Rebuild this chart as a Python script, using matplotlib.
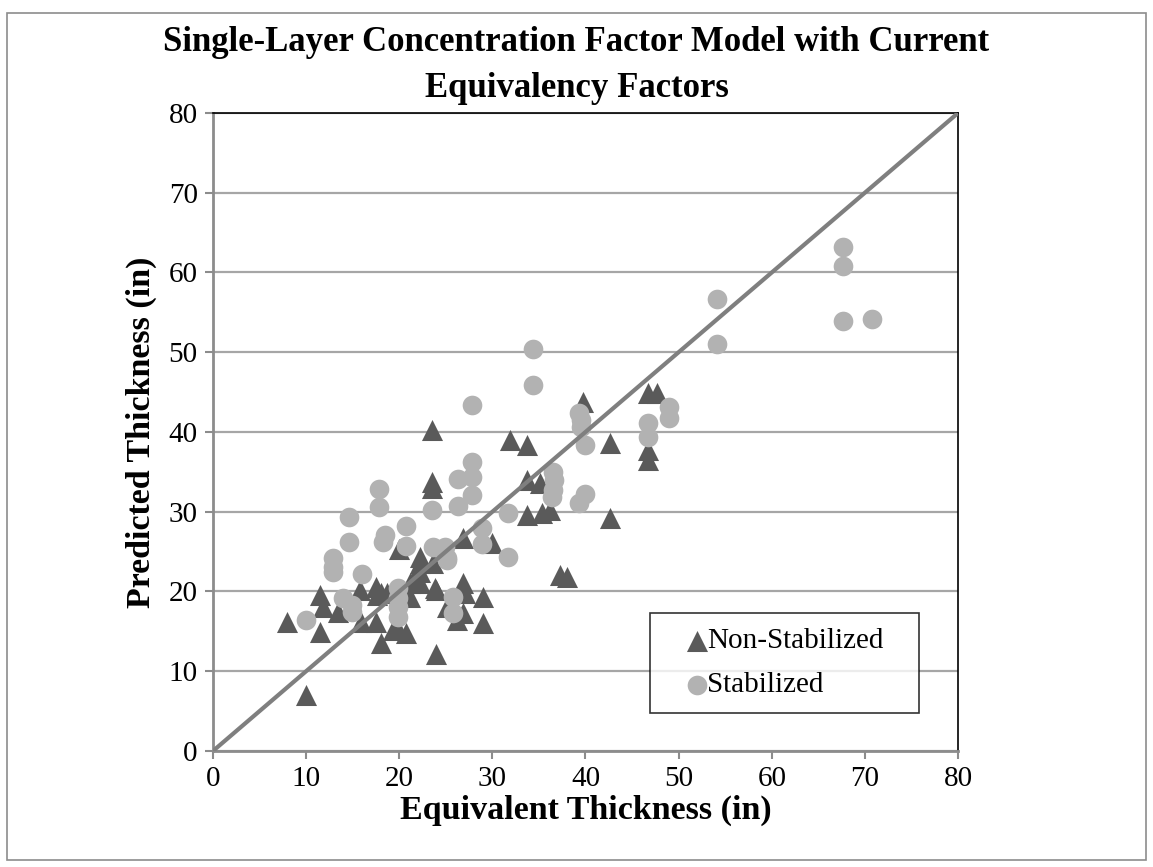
import matplotlib
matplotlib.use("Agg")
import matplotlib.pyplot as plt
from matplotlib.patches import Rectangle

# Non-Stabilized: equivalent thickness (x), predicted thickness (y)
ns_x = [7.9, 10, 11.5, 11.5, 11.8, 13.4, 15.8, 15.9, 17.5, 17.6, 18, 17.5, 18, 18.7,
        19.3, 19.8, 20.7, 21.2, 21.2, 21.5, 22.2, 22.2, 22.2, 22.2, 23.6, 23.8, 24,
        23.9, 23.5, 23.5, 23.5, 25.1, 26.2, 26.8, 26.8, 26.8, 27.1, 29, 29, 30, 31.9,
        33.7, 33.7, 35.1, 33.7, 35.3, 36.2, 37.3, 38, 39.7, 42.6, 42.6, 46.7, 47.7,
        46.7, 46.7, 20]
ns_y = [16.2, 7.0, 14.9, 19.6, 18.1, 17.4, 20.2, 16.2, 20.6, 19.6, 19.8, 16.2, 13.6, 19.8,
        15.2, 15.6, 14.8, 21.1, 19.3, 21.4, 24.3, 23.6, 22.5, 21.1, 23.6, 20.4, 20.2,
        12.2, 40.3, 33.7, 33.0, 18, 16.4, 26.7, 21.1, 17.3, 19.8, 19.3, 16, 26.1, 39.0,
        38.4, 34.0, 33.6, 29.6, 29.8, 30.2, 22.1, 21.8, 43.8, 38.6, 29.2, 44.9, 44.9,
        37.7, 36.5, 25.3]

# Stabilized
st_x = [10, 12.9, 12.9, 12.9, 14, 14.9, 14.9, 14.6, 14.6, 16, 17.8, 17.8, 18.5, 18.3,
        19.9, 19.9, 19.9, 19.9, 20.7, 20.7, 23.5, 23.6, 24.9, 25.1, 25.1, 25.8, 25.8,
        26.3, 26.3, 27.8, 27.8, 27.8, 27.8, 28.9, 28.9, 31.7, 31.7, 34.4, 34.4, 36.5,
        36.6, 36.5, 36.4, 39.3, 39.5, 39.5, 40, 40, 39.3, 46.7, 46.7, 49, 49, 54.1,
        54.1, 67.6, 67.6, 67.6, 70.8]
st_y = [16.4, 24.2, 23.1, 22.4, 19.2, 18.3, 17.4, 29.4, 26.2, 22.2, 32.9, 30.6, 27.1, 26.2,
        20.4, 19.2, 18.1, 16.8, 28.2, 25.7, 30.2, 25.6, 25.6, 24.2, 23.9, 19.3, 17.3,
        34.1, 30.7, 43.4, 36.2, 34.4, 32.1, 28, 26, 29.8, 24.3, 50.4, 45.9, 35,
        34, 32.7, 31.8, 42.4, 41.5, 40.6, 38.4, 32.2, 31.1, 41.1, 39.4, 43.1, 41.8, 56.7,
        51, 63.2, 60.8, 53.9, 54.2]

ticks = [0, 10, 20, 30, 40, 50, 60, 70, 80]
title_lines = ['Single-Layer Concentration Factor Model with Current',
               'Equivalency Factors']

plt.rcParams['font.family'] = ['Liberation Serif', 'DejaVu Serif']

fig = plt.figure(figsize=(11.53, 8.67), dpi=100)
ax = fig.add_axes([0.1847, 0.1338, 0.6462, 0.7359])

# outer border of the chart area
fig.patches.append(Rectangle((7 / 1153, 7 / 867), 1139 / 1153, 847 / 867,
                             transform=fig.transFigure, fill=False,
                             edgecolor='#8c8c8c', linewidth=1.2))

ax.set_xlim(0, 80)
ax.set_ylim(0, 80)
ax.set_xticks(ticks)
ax.set_yticks(ticks)
ax.grid(axis='y', color='#a6a6a6', linewidth=1.6, zorder=0)
ax.set_axisbelow(True)

ax.scatter(ns_x, ns_y, marker='^', s=230, color='#5a5a5a', linewidths=0,
           label='Non-Stabilized', zorder=3)
ax.scatter(st_x, st_y, marker='o', s=200, color='#b2b2b2', linewidths=0,
           label='Stabilized', zorder=3)
ax.plot([0, 80], [0, 80], color='#7f7f7f', linewidth=3, zorder=4)

for side in ['left', 'bottom']:
    ax.spines[side].set_color('#8c8c8c')
    ax.spines[side].set_linewidth(2)
for side in ['top', 'right']:
    ax.spines[side].set_color('black')
    ax.spines[side].set_linewidth(1.2)

ax.tick_params(axis='both', labelsize=21, length=6, width=1.5, color='#8c8c8c',
               direction='out', pad=5)

ax.set_xlabel('Equivalent Thickness (in)', fontsize=24.5, fontweight='bold', labelpad=2)
ax.set_ylabel('Predicted Thickness (in)', fontsize=24.5, fontweight='bold', labelpad=8)

# title as two separate lines, like the original
fig.text(0.5, 0.951, title_lines[0], ha='center', va='center',
         fontsize=25, fontweight='bold')
fig.text(0.5, 0.898, title_lines[1], ha='center', va='center',
         fontsize=25, fontweight='bold')

leg = ax.legend(loc='lower left', bbox_to_anchor=(0.587, 0.0596, 0.36, 0.153),
                mode='expand', borderaxespad=0, fontsize=21, frameon=True,
                fancybox=False, handlelength=2.2, handletextpad=-0.75,
                borderpad=0.5, labelspacing=0.6, markerscale=1.0)
leg.get_frame().set_edgecolor('black')
leg.get_frame().set_linewidth(1.2)

fig.savefig('out.png', dpi=100)
